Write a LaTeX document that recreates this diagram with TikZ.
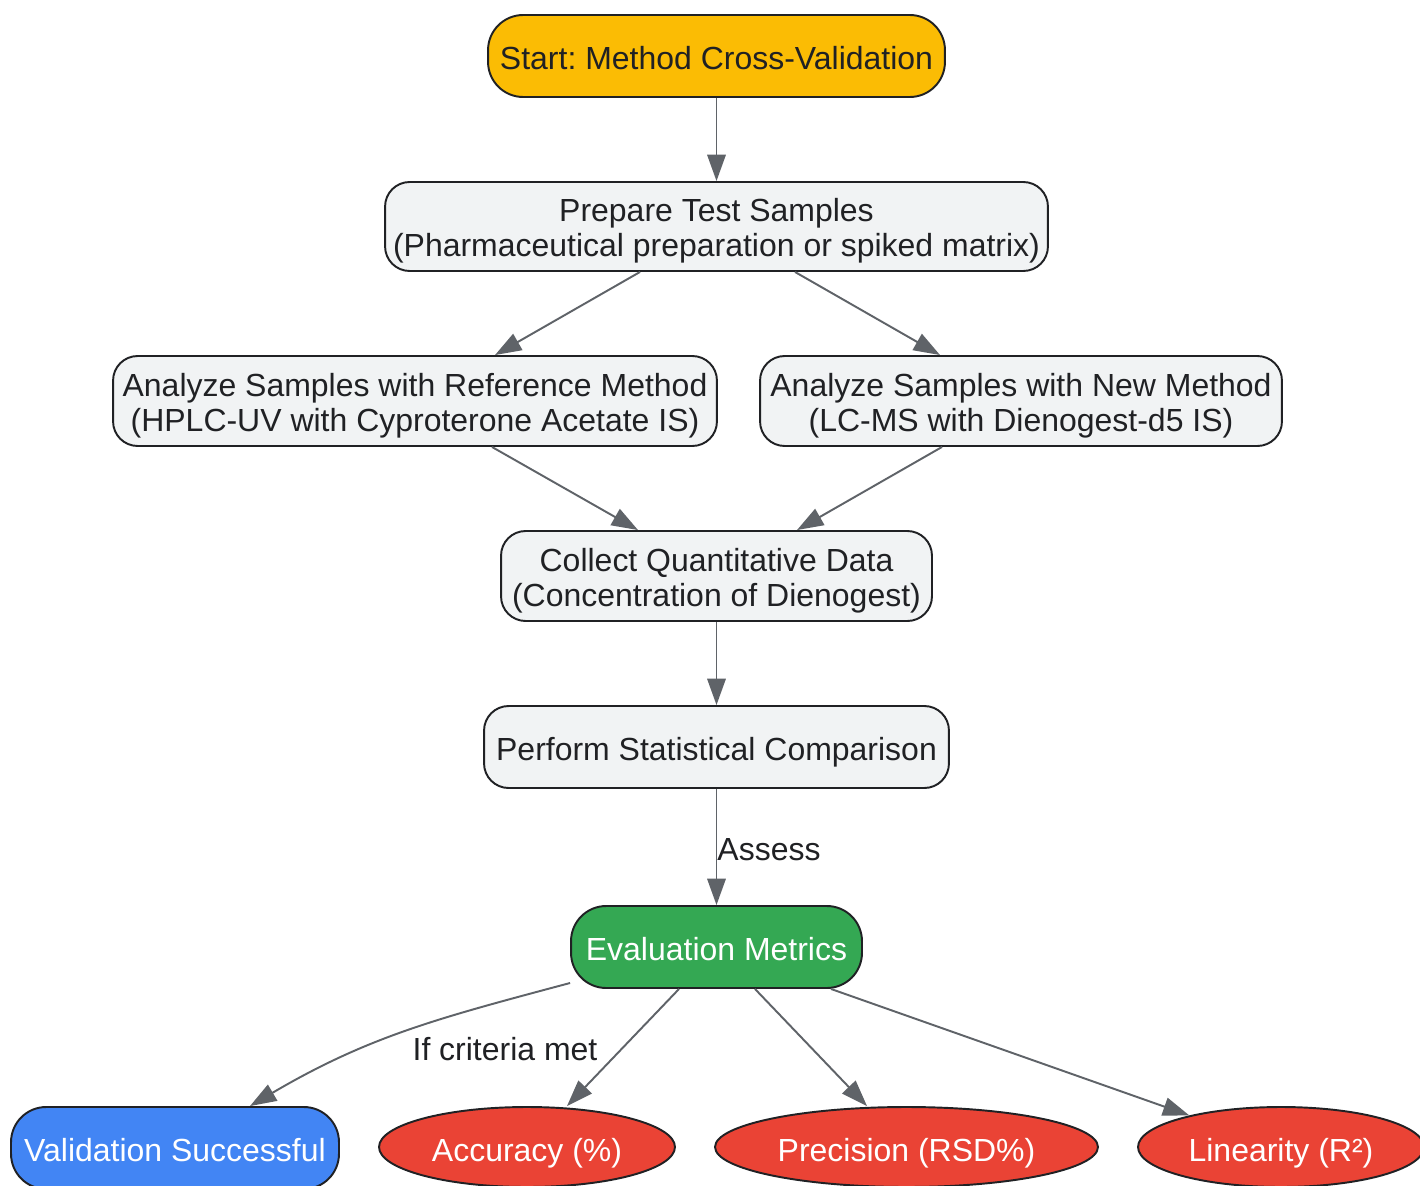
\documentclass[tikz,border=0pt]{standalone}
\usepackage{fontspec}
\setmainfont{Liberation Sans}
\usetikzlibrary{arrows.meta,shapes.geometric}
\definecolor{startyellow}{HTML}{FBBC04}
\definecolor{evalgreen}{HTML}{34A853}
\definecolor{okblue}{HTML}{4285F4}
\definecolor{metricred}{HTML}{EA4335}
\definecolor{boxgray}{HTML}{F1F3F4}
\definecolor{edgegray}{HTML}{5F6368}
\definecolor{inkdark}{HTML}{202124}
\frenchspacing
\tikzset{
  stepbox/.style={
    draw=inkdark,
    line width=1.1pt,
    rounded corners=14pt,
    fill=boxgray,
    text=inkdark,
    align=center,
    inner sep=0pt,
    text height=15.5pt,
    text depth=0pt,
    minimum height=1.8cm
  },
  twoline/.style={stepbox,text height=34.5pt},
  startbox/.style={stepbox,fill=startyellow,rounded corners=20pt,minimum height=1.64cm},
  evalbox/.style={stepbox,fill=evalgreen,text=white,rounded corners=20pt,minimum height=1.64cm},
  okbox/.style={stepbox,fill=okblue,text=white,rounded corners=20pt,minimum height=1.64cm},
  metric/.style={
    ellipse,
    draw=inkdark,
    line width=1.1pt,
    fill=metricred,
    text=white,
    inner sep=0pt,
    text height=16pt,
    text depth=0pt,
    minimum height=1.6cm
  },
  flow/.style={
    draw=edgegray,
    line width=1.1pt,
    -{Triangle[length=15pt,width=10.5pt]}
  },
  lbl/.style={text=inkdark,inner sep=0pt}
}

\begin{document}
\begin{tikzpicture}[x=0.02cm,y=-0.02cm,font=\fontsize{18.2}{19.9}\selectfont]
  \useasboundingbox (0,0) rectangle (1420,1186);
  \clip (0,0) rectangle (1420,1186);
  \fill[white] (0,0) rectangle (1420,1186);
  % steps
  \node[startbox,minimum width=9.14cm] (start) at (716.5,56) {Start: Method Cross-Validation};
  \node[twoline,minimum width=13.26cm,minimum height=1.78cm] (prep) at (716.5,226.5) {Prepare Test Samples\\(Pharmaceutical preparation or spiked matrix)};
  \node[twoline,minimum width=12.08cm] (refm) at (415,401) {Analyze Samples with Reference Method\\(HPLC-UV with Cyproterone Acetate IS)};
  \node[twoline,minimum width=10.44cm] (newm) at (1021,401) {Analyze Samples with New Method\\(LC-MS with Dienogest-d5 IS)};
  \node[twoline,minimum width=8.62cm] (collect) at (716.5,576) {Collect Quantitative Data\\(Concentration of Dienogest)};
  \node[stepbox,minimum width=9.3cm,minimum height=1.64cm] (stats) at (716.5,747) {Perform Statistical Comparison};
  \node[evalbox,minimum width=5.82cm] (eval) at (716.5,947) {Evaluation Metrics};
  % results
  \node[okbox,minimum width=6.56cm] (valid) at (175,1148) {Validation Successful};
  \node[metric,minimum width=5.92cm] (acc) at (527,1147) {Accuracy (\%)};
  \node[metric,minimum width=7.66cm] (prec) at (906.5,1147) {Precision (RSD\%)};
  \node[metric,minimum width=5.72cm] (lin) at (1281,1147) {Linearity (R²)};
  % connectors
  \draw[flow] (start) -- (prep);
  \draw[flow] ([xshift=-1.53cm]prep.south) -- ([xshift=1.6cm]refm.north);
  \draw[flow] ([xshift=1.57cm]prep.south) -- ([xshift=-1.62cm]newm.north);
  \draw[flow] ([xshift=1.54cm]refm.south) -- ([xshift=-1.57cm]collect.north);
  \draw[flow] ([xshift=-1.58cm]newm.south) -- ([xshift=1.61cm]collect.north);
  \draw[flow] (collect) -- (stats);
  \draw[flow] (stats) -- node[lbl,anchor=west,pos=0.52] (assess) {Assess} (eval);
  \draw[flow] ([yshift=-0.72cm]eval.west) .. controls (439,1018) and (369,1036) .. ([xshift=1.5cm]valid.north);
  \node[lbl] (crit) at (505,1049) {If criteria met};
  \draw[flow] ([xshift=-0.75cm]eval.south) -- ([xshift=0.8cm]acc.north);
  \draw[flow] ([xshift=0.77cm]eval.south) -- ([xshift=-0.79cm]prec.north);
  \draw[flow] ([xshift=2.29cm]eval.south) -- (lin.161);
\end{tikzpicture}
\end{document}
